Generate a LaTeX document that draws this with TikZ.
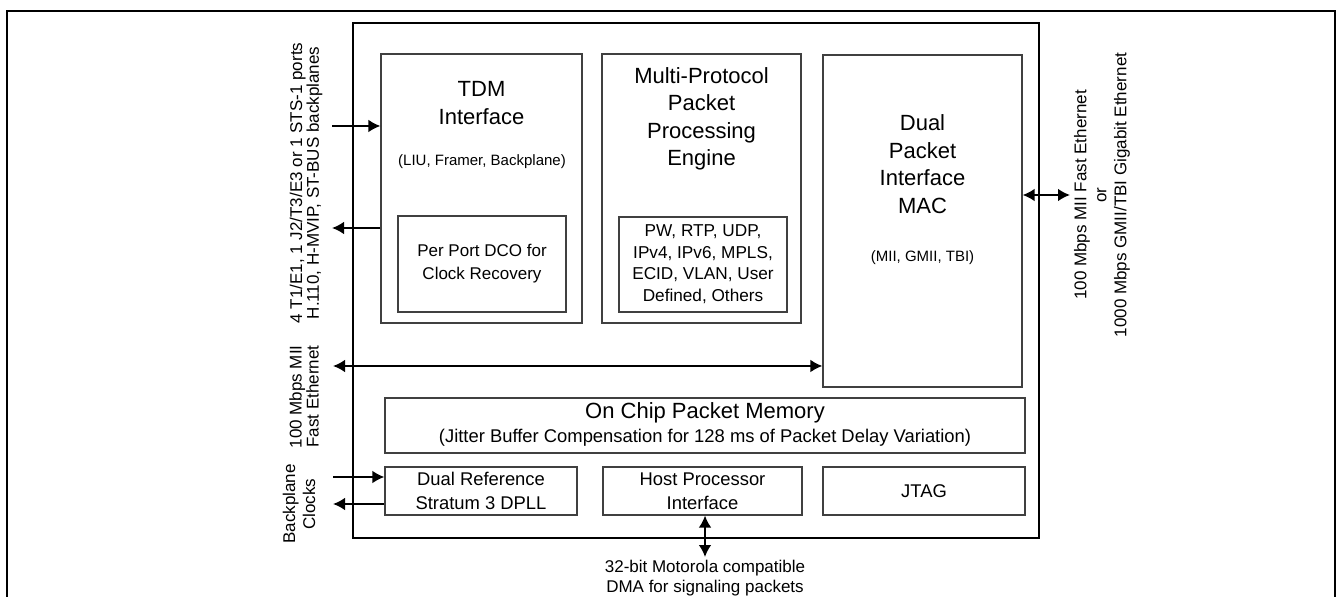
\documentclass[tikz,border=0pt]{standalone}
\usepackage{fontspec}
\setmainfont{Liberation Sans}
\usetikzlibrary{arrows.meta,fit}

\begin{document}
\begin{tikzpicture}[x=0.5pt,y=-0.5pt,
  blk/.style={draw=black!75,line width=0.6pt,inner sep=0pt},
  chip/.style={draw,line width=1.3pt,inner sep=0pt},
  sig/.style={line width=1pt,-{Latex[length=6pt,width=6.4pt]}},
  bisig/.style={line width=1pt,{Latex[length=6pt,width=6.4pt]}-{Latex[length=6pt,width=6.4pt]}},
  ttl/.style={align=center,font=\fontsize{11}{13.75}\selectfont},
  txt/.style={align=center,font=\fontsize{9.2}{12}\selectfont},
  sml/.style={font=\fontsize{7.5}{9}\selectfont},
  lbl/.style={align=center,rotate=90,inner sep=0pt,font=\fontsize{8.5}{10}\selectfont}]
\clip (0,0) rectangle (1336,597);
\draw[line width=1pt] (7,620) |- (1335,11) -- (1335,620);
% chip and blocks
\node[chip,fit={(353,23)(1039,538)}] (chipbox) {};
\node[blk,fit={(381,54)(582,323)}] (tdm) {};
\node[blk,fit={(398,216)(566,312)}] (dco) {};
\node[blk,fit={(602,54)(801,323)}] (mpe) {};
\node[blk,fit={(619,217)(787,312)}] (proto) {};
\node[blk,fit={(823,55)(1022,387)}] (mac) {};
\node[blk,fit={(385,398)(1025,453)}] (mem) {};
\node[blk,fit={(385,467)(577,515)}] (dref) {};
\node[blk,fit={(603,467)(802,515)}] (host) {};
\node[blk,fit={(823,467)(1025,515)}] (jtag) {};
% texts in the blocks
\node[ttl] (tdmT) at (481.5,103) {TDM\\Interface};
\node[sml] (tdmS) at (482,162) {(LIU, Framer, Backplane)};
\node[txt,font=\fontsize{8.5}{11.5}\selectfont] (dcoT) at (482,264) {Per Port DCO for\\Clock Recovery};
\node[ttl] (mpeT) at (701.5,119) {Multi-Protocol\\Packet\\Processing\\Engine};
\node[txt,font=\fontsize{8.6}{10.8}\selectfont] (protoT) at (703,264) {PW, RTP, UDP,\\IPv4, IPv6, MPLS,\\ECID, VLAN, User\\Defined, Others};
\node[ttl] (macT) at (922.5,164) {Dual\\Packet\\Interface\\MAC};
\node[sml] (macS) at (922.5,258) {(MII, GMII, TBI)};
\node[ttl] (memT) at (705,413) {On Chip Packet Memory};
\node[txt] (memS) at (705,438) {(Jitter Buffer Compensation for 128 ms of Packet Delay Variation)};
\node[txt] (drefT) at (481,491) {Dual Reference\\Stratum 3 DPLL};
\node[txt] (hostT) at (702.5,491) {Host Processor\\Interface};
\node[txt] (jtagT) at (924,491) {JTAG};
% outside labels
\node[lbl,font=\fontsize{8.5}{8.4}\selectfont] (tdmL) at (306,183) {4 T1/E1, 1 J2/T3/E3 or 1 STS-1 ports\\H.110, H-MVIP, ST-BUS backplanes};
\node[lbl,align=right,anchor=east,font=\fontsize{8.5}{8.5}\selectfont] (miiL) at (304,345) {100 Mbps MII\\Fast Ethernet};
\node[lbl] (clkL) at (299,504) {Backplane\\Clocks};
\node[lbl] (ethL) at (1102,195) {100 Mbps MII Fast Ethernet\\or\\1000 Mbps GMII/TBI Gigabit Ethernet};
\node[align=center,inner sep=0pt,font=\fontsize{8.5}{10}\selectfont] (dmaL) at (705,578) {32-bit Motorola compatible\\DMA for signaling packets};
% connectors
\coordinate (tdmIn) at (332,126);
\coordinate (tdmOut) at (332,228);
\coordinate (miiEnd) at (333,366);
\coordinate (clkIn) at (333,477);
\coordinate (clkOut) at (333,504);
\coordinate (dmaEnd) at (705,557);
\coordinate (ethEnd) at (1070,195);
\draw[sig] (tdmIn) -- (tdmIn -| tdm.west);
\draw[sig] (tdmOut -| tdm.west) -- (tdmOut);
\draw[bisig] (miiEnd) -- (miiEnd -| mac.west);
\draw[sig] (clkIn) -- (clkIn -| dref.west);
\draw[sig] (clkOut -| dref.west) -- (clkOut);
\draw[bisig] (dmaEnd |- host.south) -- (dmaEnd);
\draw[bisig] (ethEnd -| mac.east) -- (ethEnd);
\end{tikzpicture}
\end{document}
